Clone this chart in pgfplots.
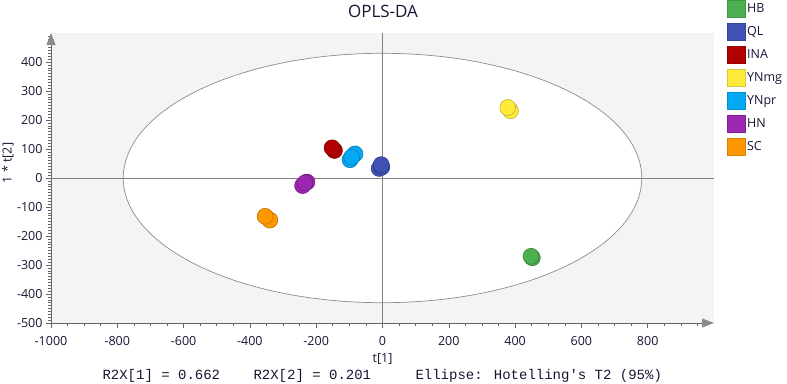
\documentclass[border=0pt]{standalone}
\usepackage{pgfplots}
\pgfplotsset{compat=1.18}
\usetikzlibrary{arrows.meta}
\usepackage{fontspec}
\setmainfont{Open Sans}
\newfontfamily\monofont{Liberation Mono}

\definecolor{txt}{RGB}{22,22,52}
\definecolor{bgpanel}{RGB}{244,244,244}
\definecolor{cHB}{RGB}{76,175,80}
\definecolor{cQL}{RGB}{63,81,181}
\definecolor{cINA}{RGB}{176,0,0}
\definecolor{cYNmg}{RGB}{255,235,59}
\definecolor{cYNpr}{RGB}{3,169,244}
\definecolor{cHN}{RGB}{156,39,176}
\definecolor{cSC}{RGB}{255,152,0}

\pgfplotsset{
  grp/.style={only marks, forget plot, mark=*, mark size=8pt,
    mark options={fill=#1, draw=#1!75!black, line width=0.6pt}},
}

\begin{document}
\begin{tikzpicture}
\useasboundingbox (0pt,0pt) rectangle (787pt,-383pt);
\begin{axis}[
  at={(51pt,-323pt)}, anchor=south west,
  scale only axis, width=663pt, height=290pt,
  xmin=-1000, xmax=1000, ymin=-500, ymax=500,
  axis lines=left,
  axis line style={draw=black!60, line width=0.8pt,
    -{Triangle[length=12pt,width=9pt,color=black!45,fill=black!45]}},
  axis background/.style={fill=bgpanel},
  xtick={-1000,-800,...,800},
  ytick={-500,-400,...,400},
  minor xtick={-950,-900,...,950},
  minor ytick={-490,-480,...,490},
  tick align=outside,
  major tick length=5pt, minor tick length=3pt,
  tick style={draw=black!60, line width=0.6pt},
  /pgf/number format/assume math mode=true,
  /pgf/number format/1000 sep={},
  ticklabel style={font=\fontsize{12.5}{14}\selectfont, text=txt},
  xticklabel style={inner ysep=8pt},
  xlabel={t[1]},
  xlabel style={font=\fontsize{12.5}{14}\selectfont, text=txt,
    at={(axis description cs:0.5,-0.124)}, anchor=center},
  ylabel={1 * t[2]},
  ylabel style={font=\fontsize{12.5}{14}\selectfont, text=txt,
    at={(axis description cs:-0.065,0.552)}, anchor=center},
  clip=false,
  legend style={at={(axis description cs:1.0196,1.1138)}, anchor=north west,
    draw=none, fill=none, inner sep=0pt, row sep=5.6pt,
    font=\fontsize{12.5}{14}\selectfont, text=txt,
    nodes={inner sep=1.5pt}},
  legend cell align=left,
  legend image code/.code={\filldraw[#1] (0pt,-8.5pt) rectangle (18pt,8.5pt);},
]
% Hotelling's T2 (95%) ellipse and the zero lines
\draw[draw=black!45, line width=0.7pt, fill=white] (axis cs:0,0) ellipse [x radius=782, y radius=430];
\draw[draw=black!50, line width=0.8pt] (axis cs:-1000,0) -- (axis cs:1000,0);
\draw[draw=black!50, line width=0.8pt] (axis cs:0,-500) -- (axis cs:0,500);

% legend swatches
\addlegendimage{fill=cHB, draw=cHB!85!black}
\addlegendentry{HB}
\addlegendimage{fill=cQL, draw=cQL!85!black}
\addlegendentry{QL}
\addlegendimage{fill=cINA, draw=cINA!85!black}
\addlegendentry{INA}
\addlegendimage{fill=cYNmg, draw=cYNmg!85!black}
\addlegendentry{YNmg}
\addlegendimage{fill=cYNpr, draw=cYNpr!85!black}
\addlegendentry{YNpr}
\addlegendimage{fill=cHN, draw=cHN!85!black}
\addlegendentry{HN}
\addlegendimage{fill=cSC, draw=cSC!85!black}
\addlegendentry{SC}

% score points, one series per group
\addplot[grp=cHB] coordinates {(452,-275) (448,-270)};
\addplot[grp=cQL] coordinates {(-10,33) (-2,38) (-4,46)};
\addplot[grp=cINA] coordinates {(-145,95) (-152,104)};
\addplot[grp=cYNmg] coordinates {(386,232) (378,243)};
\addplot[grp=cYNpr] coordinates {(-83,83) (-98,63) (-93,72)};
\addplot[grp=cHN] coordinates {(-228,-14) (-241,-26) (-234,-17)};
\addplot[grp=cSC] coordinates {(-340,-145) (-354,-132)};
\end{axis}
% title
\node[font=\fontsize{17}{20}\selectfont, text=txt, anchor=base] at (383pt,-17.5pt) {OPLS-DA};
% summary line under the plot
\node[font=\monofont\fontsize{14}{16}\selectfont, text=txt, anchor=west] at (99pt,-376pt) {R2X[1] = 0.662};
\node[font=\monofont\fontsize{14}{16}\selectfont, text=txt, anchor=west] at (250pt,-376pt) {R2X[2] = 0.201};
\node[font=\monofont\fontsize{14}{16}\selectfont, text=txt, anchor=west] at (412pt,-376pt) {Ellipse: Hotelling's T2 (95\%)};
\end{tikzpicture}
\end{document}
